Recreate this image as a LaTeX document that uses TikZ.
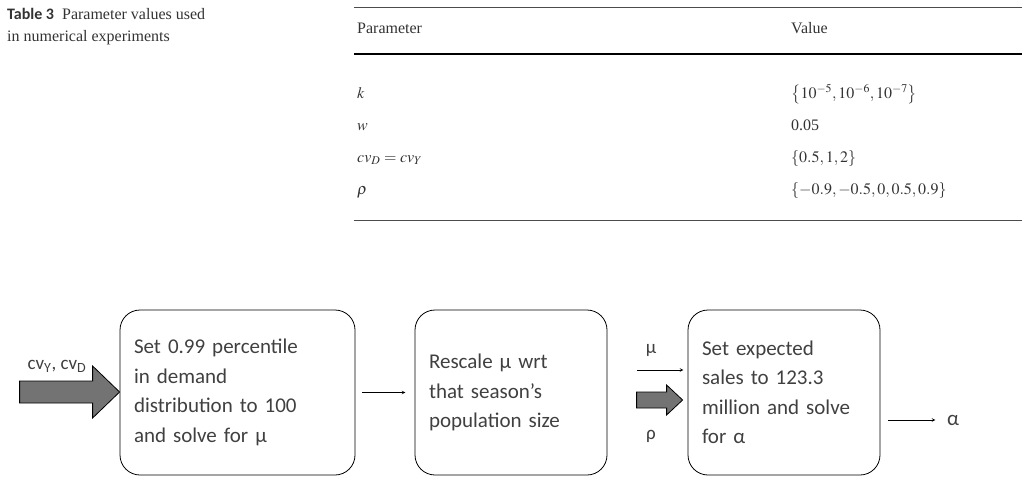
\documentclass[tikz,border=0pt]{standalone}
\usepackage{mathptmx}
\usepackage{fontspec}
\setmainfont{Liberation Serif}
\setsansfont{Carlito}
\begin{document}
\begin{tikzpicture}[x=1pt,y=-1pt,
  every node/.style={inner sep=0pt},
  step/.style={draw, thick, rounded corners=20pt, minimum height=165pt,
    minimum width=#1, text width=#1-28pt, inner xsep=14pt, align=left,
    font=\sffamily\fontsize{21}{29.5}\selectfont, text=black!75},
  fat/.style={draw, thick, fill=black!55},
  lbl/.style={font=\sffamily\fontsize{19}{20}\selectfont, text=black!75},
  cell/.style={anchor=base west, font=\fontsize{16}{18}\selectfont, text=black!80},
  thin/.style={->, >=stealth, semithick}
  ]
  \useasboundingbox (0,0) rectangle (1025,495);
  % caption
  \node[anchor=north west, align=left, font=\fontsize{16}{22}\selectfont, text=black!80]
    (cap) at (7,8) {{\sffamily\bfseries Table 3}\ \ Parameter values used\\in numerical experiments};
  % table
  \draw[semithick, black!70] (354,7) -- (1022,7);
  \draw[very thick] (354,54) -- (1022,54);
  \draw[semithick, black!70] (354,220) -- (1022,220);
  \node[cell] (hp) at (357,34) {Parameter};
  \node[cell] (hv) at (791,34) {Value};
  \node[cell] (pk) at (357,98) {$k$};
  \node[cell] (vk) at (791,98) {$\bigl\{10^{-5},10^{-6},10^{-7}\bigr\}$};
  \node[cell] (pw) at (357,130) {$w$};
  \node[cell] (vw) at (791,130) {0.05};
  \node[cell] (pc) at (357,162) {$cv_D = cv_Y$};
  \node[cell] (vc) at (791,162) {$\{0.5,1,2\}$};
  \node[cell] (pr) at (357,194) {$\rho$};
  \node[cell] (vr) at (791,194) {$\{-0.9,-0.5,0,0.5,0.9\}$};
  % flow
  \node[step=235pt] (solve) at (237.5,392.5) {Set 0.99 percentile\\in demand\\distribution to 100\\and solve for µ};
  \node[step=192pt] (rescale) at (511,392.5) {Rescale µ wrt\\that season’s\\population size};
  \node[step=192pt] (sales) at (784,392.5) {Set expected\\sales to 123.3\\million and solve\\for α};
  % fat arrows
  \coordinate (tip1) at (solve.west |- 0,392);
  \draw[fat] ([xshift=-100pt,yshift=11pt]tip1) -- ++(73,0) -- ++(0,-15) -- (tip1)
    -- ([xshift=-27pt,yshift=-26pt]tip1) -- ++(0,-15) -- ++(-73,0) -- cycle;
  \node[lbl] (cv) at (57,366) {cv\textsubscript{Y}, cv\textsubscript{D}};
  \coordinate (tip2) at ([xshift=-5pt]sales.west |- 0,400);
  \draw[fat] ([xshift=-46pt,yshift=8pt]tip2) -- ++(30,0) -- ++(0,-7) -- (tip2)
    -- ([xshift=-16pt,yshift=-15pt]tip2) -- ++(0,-7) -- ++(-30,0) -- cycle;
  % thin arrows
  \draw[thin] ([xshift=7pt]solve.east) -- ([xshift=50pt]solve.east);
  \coordinate (m1) at (rescale.east |- 0,370);
  \draw[thin] ([xshift=30pt]m1) -- ([xshift=76pt]m1);
  \node[lbl] (mu) at (651,350) {µ};
  \node[lbl] (rho) at (651,436) {ρ};
  \coordinate (o1) at (sales.east |- 0,420);
  \node[font=\sffamily\fontsize{21}{22}\selectfont, text=black!75, anchor=west] (alpha) at (947,420) {α};
  \draw[thin] ([xshift=8pt]o1) -- ([xshift=55pt]o1);
\end{tikzpicture}
\end{document}
